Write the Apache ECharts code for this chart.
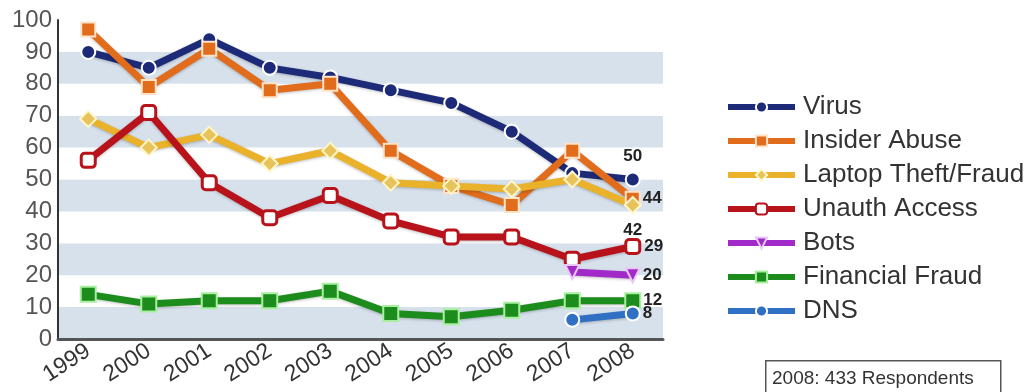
<!DOCTYPE html>
<html><head><meta charset="utf-8">
<script src="https://cdn.jsdelivr.net/npm/echarts@6/dist/echarts.min.js"></script>
<style>html,body{margin:0;padding:0;background:#fff}#c{width:1032px;height:392px}</style>
</head><body><div id="c"></div>
<script>
const years = ['1999','2000','2001','2002','2003','2004','2005','2006','2007','2008'];
const virus = [90,85,94,85,82,78,74,65,52,50];
const insiderAbuse = [97,79,91,78,80,59,48,42,59,44];
const laptopTheft = [69,60,64,55,59,49,48,47,50,42];
const unauthAccess = [56,71,49,38,45,37,32,32,25,29];
const bots = [null,null,null,null,null,null,null,null,21,20];
const financialFraud = [14,11,12,12,15,8,7,9,12,12];
const dns = [null,null,null,null,null,null,null,null,6,8];
const yTicks = [0,10,20,30,40,50,60,70,80,90,100];
const endLabels = ['50','44','42','29','20','12','8'];
const footnote = '2008: 433 Respondents';

const chart = echarts.init(document.getElementById('c'));
const lastIdx = years.length - 1;
function withLabel(arr, text, pos, dist) {
  return arr.map((v, i) => i === lastIdx ? {
    value: v,
    label: { show: true, formatter: text, position: pos, distance: dist,
      fontSize: 17, fontWeight: 'bold', color: '#222', fontFamily: 'Liberation Sans, Arial, sans-serif' }
  } : v);
}
const shadow = { shadowBlur: 3, shadowColor: 'rgba(0,0,0,0.25)', shadowOffsetY: 1 };
function mk(name, arr, color, symbol, size, fill, border, lbl, pos, dist, extra) {
  return Object.assign({
    name, type: 'line', data: withLabel(arr, lbl, pos, dist),
    symbol, symbolSize: size, showAllSymbol: true,
    lineStyle: Object.assign({ width: 7, color }, shadow),
    itemStyle: { color: fill, borderColor: border, borderWidth: 2 },
    emphasis: { disabled: true }, animation: false
  }, extra || {});
}
chart.setOption({
  animation: false,
  grid: { left: 58, right: 369, top: 20, bottom: 53 },
  xAxis: {
    type: 'category', data: years, boundaryGap: true,
    axisLine: { lineStyle: { color: '#555', width: 3 } },
    axisTick: { show: false },
    axisLabel: { rotate: 33, margin: 10, fontSize: 23, color: '#333', fontFamily: 'Liberation Sans, Arial, sans-serif' },
    splitLine: { show: false }
  },
  yAxis: {
    type: 'value', min: 0, max: 100, interval: 10,
    axisLine: { show: true, lineStyle: { color: '#333', width: 2 } },
    axisTick: { show: false },
    axisLabel: { margin: 6, fontSize: 24, color: '#555', fontFamily: 'Liberation Sans, Arial, sans-serif',
      formatter: v => yTicks.includes(v) ? String(v) : '' },
    splitLine: { show: false },
    splitArea: { show: true, areaStyle: { color: ['#d7e1ec', '#ffffff'] } }
  },
  legend: {
    orient: 'vertical', left: 720, top: 89, itemWidth: 67, itemHeight: 14, itemGap: 8,
    lineStyle: { width: 6 },
    textStyle: { fontSize: 26, color: '#333', fontFamily: 'Liberation Sans, Arial, sans-serif', lineHeight: 24, padding: [0, 0, 0, 3] },
    data: ['Virus','Insider Abuse','Laptop Theft/Fraud','Unauth Access','Bots','Financial Fraud','DNS']
  },
  graphic: [
    { type: 'rect', left: 765, top: 360, shape: { width: 235, height: 40 },
      style: { fill: '#fff', stroke: '#555', lineWidth: 1.5 } },
    { type: 'text', left: 772, top: 369, style: { text: footnote, fontSize: 19, fill: '#333', fontFamily: 'Liberation Sans, Arial, sans-serif' } }
  ],
  series: [
    mk('Virus', virus, '#1c2a78', 'circle', 14, '#1c2a78', '#ffffff', endLabels[0], 'top', 7),
    mk('Insider Abuse', insiderAbuse, '#e06c1c', 'rect', 14, '#e06c1c', '#fde3c8', endLabels[1], 'right', 2),
    mk('Laptop Theft/Fraud', laptopTheft, '#eab22a', 'diamond', 16, '#e8c25a', '#fff6c8', endLabels[2], 'bottom', 8),
    mk('Unauth Access', unauthAccess, '#b8121a', 'roundRect', 14, '#ffffff', '#b8121a', endLabels[3], 'right', 3,
      { itemStyle: { color: '#ffffff', borderColor: '#b8121a', borderWidth: 3 } }),
    mk('Bots', bots, '#a22ac8', 'triangle', 14, '#a22ac8', '#e8c8f8', endLabels[4], 'right', 2, { symbolRotate: 180 }),
    mk('Financial Fraud', financialFraud, '#1c8c1c', 'rect', 15, '#1c8c1c', '#a8f0a0', endLabels[5], 'right', 2),
    mk('DNS', dns, '#2f6fc4', 'circle', 14, '#2f6fc4', '#ffffff', endLabels[6], 'right', 2)
  ]
});
</script></body></html>
